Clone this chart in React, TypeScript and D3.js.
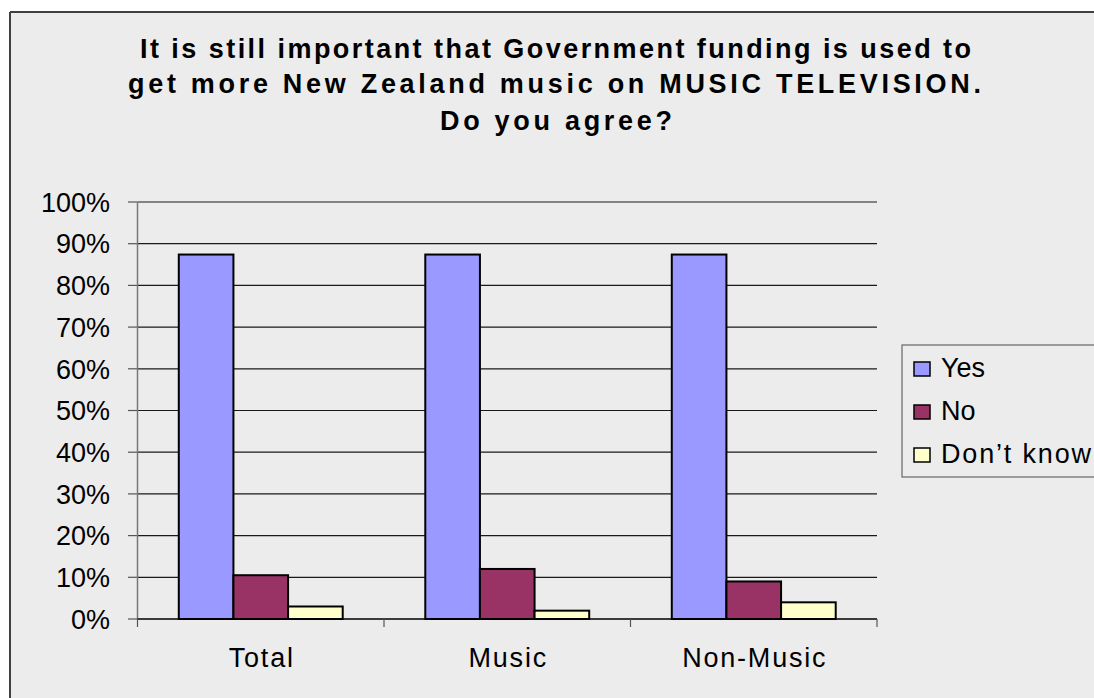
import React from "react";
import * as d3 from "d3";

const categories = ["Total", "Music", "Non-Music"];
const seriesNames = ["Yes", "No", "Don\u2019t know"];
const yesValues = [87.4, 87.4, 87.4];
const noValues = [10.5, 12, 9];
const dontKnowValues = [3, 2, 4];
const yTicks = [0, 10, 20, 30, 40, 50, 60, 70, 80, 90, 100];
const titleLines = [
  "It is still important that Government funding is used to",
  "get more New Zealand music on MUSIC TELEVISION.",
  "Do you agree?",
];

const seriesColors = ["#9999FF", "#993366", "#FFFFCC"];
const FONT = "'Liberation Sans', Arial, sans-serif";

export default function App() {
  const W = 1094, H = 698;
  const x0 = 137.5, x1 = 877, yTop = 202, yBot = 619;
  const y = d3.scaleLinear().domain([0, 100]).range([yBot, yTop]);
  const xBand = d3.scaleBand<string>().domain(categories).range([x0, x1]).padding(0);
  const bw = xBand.bandwidth();
  const groupW = bw * 0.665;
  const xInner = d3.scaleBand<number>().domain([0, 1, 2]).range([0, groupW]).padding(0);
  const series = [yesValues, noValues, dontKnowValues];

  const titleSpecs = [
    { x: 140, len: 831, y: 58 },
    { x: 128, len: 853, y: 93 },
    { x: 440, len: 232, y: 130 },
  ];

  return (
    <svg width={W} height={H} style={{ position: "absolute", left: 0, top: 0, background: "#fff" }} fontFamily={FONT}>
      <rect x={10} y={12} width={W} height={H} fill="#ECECEC" />
      <line x1={10} y1={12} x2={W} y2={12} stroke="#404040" strokeWidth={2} />
      <line x1={10} y1={12} x2={10} y2={H} stroke="#404040" strokeWidth={2} />

      {titleLines.map((t, i) => (
        <text key={i} x={titleSpecs[i].x} y={titleSpecs[i].y} fontSize={27} fontWeight="bold"
          textLength={titleSpecs[i].len} lengthAdjust="spacing" fill="#000">{t}</text>
      ))}

      {yTicks.map((v) => (
        <g key={v}>
          {v > 0 && <line x1={x0} x2={x1} y1={y(v)} y2={y(v)} stroke="#1a1a1a" strokeWidth={1.2} />}
          <line x1={128} x2={x0} y1={y(v)} y2={y(v)} stroke="#555" strokeWidth={1.2} />
          <text x={110} y={y(v)} dy="0.36em" textAnchor="end" fontSize={27} fill="#000">{v + "%"}</text>
        </g>
      ))}

      {categories.map((c, ci) => {
        const gx = (xBand(c) as number) + (bw - groupW) / 2;
        return (
          <g key={c}>
            {series.map((s, si) => (
              <rect key={si} x={gx + (xInner(si) as number)} y={y(s[ci])} width={xInner.bandwidth()}
                height={yBot - y(s[ci])} fill={seriesColors[si]} stroke="#000" strokeWidth={2} />
            ))}
            <text x={(xBand(c) as number) + bw / 2 + 1} y={667} textAnchor="middle" fontSize={27} letterSpacing={1.8} fill="#000">{c}</text>
          </g>
        );
      })}

      <line x1={x0} x2={x0} y1={yTop} y2={yBot} stroke="#777" strokeWidth={1.5} />
      <line x1={x0} x2={x1} y1={yBot} y2={yBot} stroke="#000" strokeWidth={1.5} />
      {[...categories.map((c) => xBand(c) as number), x1].map((t, i) => (
        <line key={i} x1={t} x2={t} y1={yBot} y2={yBot + 8} stroke="#555" strokeWidth={1.2} />
      ))}

      <rect x={902} y={345} width={220} height={132} fill="#ECECEC" stroke="#666" strokeWidth={1.2} />
      {seriesNames.map((n, i) => {
        const by = [377, 420, 463][i];
        return (
          <g key={n}>
            <rect x={914} y={by - 15} width={16} height={14} fill={seriesColors[i]} stroke="#000" strokeWidth={1.5} />
            <text x={941} y={by} fontSize={27} fill="#000"
              {...(i === 2 ? { textLength: 150, lengthAdjust: "spacing" } : {})}>{n}</text>
          </g>
        );
      })}
    </svg>
  );
}
